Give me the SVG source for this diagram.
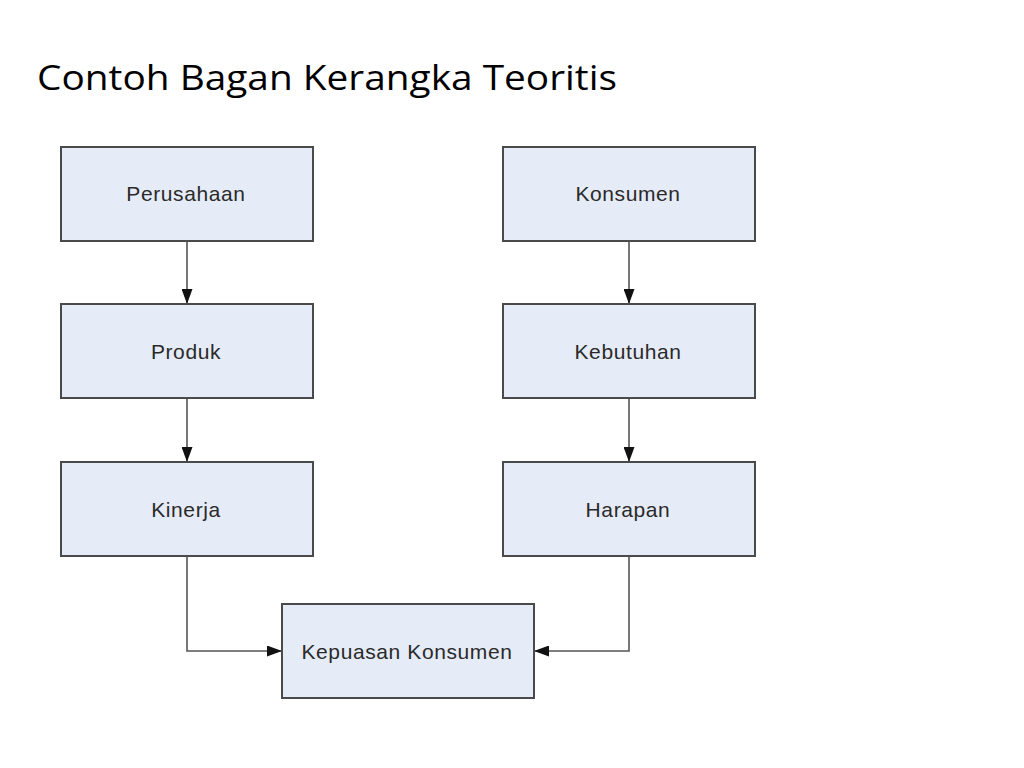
<svg xmlns="http://www.w3.org/2000/svg" width="1024" height="768" viewBox="0 0 1024 768">
<style>
.box{fill:#e6ecf7;stroke:#4a4a4a;stroke-width:2}
.lbl{font-family:"Liberation Sans",Arial,sans-serif;font-size:21px;letter-spacing:0.6px;fill:#2a2a2a;text-anchor:middle;dominant-baseline:central}
.con{fill:none;stroke:#555;stroke-width:1.6}
</style>
<defs>
<marker id="ah" markerWidth="15" markerHeight="11" refX="15" refY="5.5" orient="auto" markerUnits="userSpaceOnUse">
<path d="M0,0 L15,5.5 L0,11 Z" fill="#111"/>
</marker>
</defs>
<rect width="1024" height="768" fill="#fff"/>
<text x="37" y="90" font-family="'Open Sans','Noto Sans',sans-serif" font-size="35" fill="#000" textLength="580" lengthAdjust="spacingAndGlyphs">Contoh Bagan Kerangka Teoritis</text>
<g id="connectors">
<path class="con" d="M187,241 V304" marker-end="url(#ah)"/>
<path class="con" d="M187,398 V462" marker-end="url(#ah)"/>
<path class="con" d="M629,241 V304" marker-end="url(#ah)"/>
<path class="con" d="M629,398 V462" marker-end="url(#ah)"/>
<path class="con" d="M187,556 V651 H282" marker-end="url(#ah)"/>
<path class="con" d="M629,556 V651 H534" marker-end="url(#ah)"/>
</g>
<g id="perusahaan"><rect class="box" x="61" y="147" width="252" height="94"/><text class="lbl" x="186" y="193">Perusahaan</text></g>
<g id="produk"><rect class="box" x="61" y="304" width="252" height="94"/><text class="lbl" x="186" y="351">Produk</text></g>
<g id="kinerja"><rect class="box" x="61" y="462" width="252" height="94"/><text class="lbl" x="186" y="509">Kinerja</text></g>
<g id="konsumen"><rect class="box" x="503" y="147" width="252" height="94"/><text class="lbl" x="628" y="193">Konsumen</text></g>
<g id="kebutuhan"><rect class="box" x="503" y="304" width="252" height="94"/><text class="lbl" x="628" y="351">Kebutuhan</text></g>
<g id="harapan"><rect class="box" x="503" y="462" width="252" height="94"/><text class="lbl" x="628" y="509">Harapan</text></g>
<g id="kepuasan"><rect class="box" x="282" y="604" width="252" height="94"/><text class="lbl" x="407" y="651">Kepuasan Konsumen</text></g>
</svg>
